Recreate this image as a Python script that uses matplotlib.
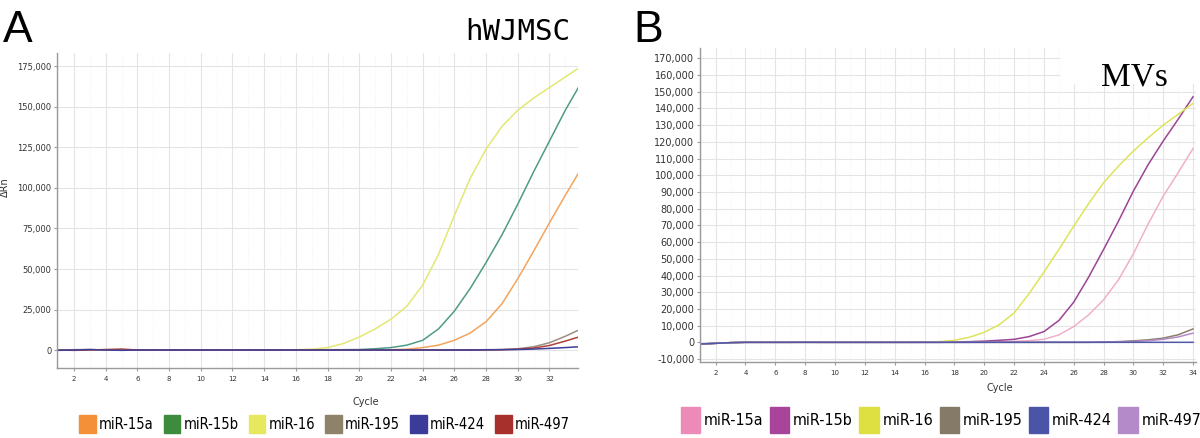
import numpy as np
import matplotlib
matplotlib.use("Agg")
import matplotlib.pyplot as plt
from matplotlib.font_manager import FontProperties
from matplotlib.patches import Patch, Rectangle
from matplotlib.ticker import FuncFormatter, MultipleLocator

cycles = np.arange(1, 35)
labels = ["miR-15a", "miR-15b", "miR-16", "miR-195", "miR-424", "miR-497"]

# Panel A: hWJMSC amplification curves (delta Rn per cycle 1..34)
a_15a = [0, 100, 0, -100, 0, 0, 0, 0, 0, 0, 0, 0, 0, 0, 0, 0, 0, 0, 0, 0,
         100, 200, 500, 1500, 3000, 6000, 10500, 17500, 28500, 44000, 61000, 78500, 95500, 112000]
a_15b = [0, 100, 0, 0, 0, 0, 0, 0, 0, 0, 0, 0, 0, 0, 0, 100, 100, 200, 200, 300,
         800, 1500, 3000, 6000, 13000, 24000, 38000, 54000, 71000, 90000, 110000, 129000, 148000, 165000]
a_16 = [0, 200, 100, -100, 0, 0, 0, 0, 0, 0, 0, 0, 0, 0, 100, 200, 500, 1500, 4000, 8000,
        13000, 19000, 27000, 40000, 59000, 83000, 106000, 124000, 138000, 148000, 155500, 162000, 168500, 175000]
a_195 = [0, 200, 300, 0, 100, 0, 0, 0, 0, 0, 0, 0, 0, 0, 0, 0, 0, 0, 0, 0,
         0, 0, 0, 0, 0, 0, 100, 200, 300, 800, 2000, 4500, 8500, 13000]
a_424 = [-200, 0, 300, 0, -200, 0, 0, 0, 0, 0, 0, 0, 0, 0, 0, 0, 0, 0, 0, 0,
         0, 0, 0, 0, 0, 0, 0, 100, 200, 300, 600, 1000, 1500, 2100]
a_497 = [0, -200, 0, 300, 600, 0, 0, 0, 0, 0, 0, 0, 0, 0, 0, 0, 0, 0, 0, 0,
         0, 0, 0, 0, 0, 0, 0, 100, 200, 500, 1200, 2800, 5500, 8500]

# Panel B: MVs amplification curves
b_15a = [-1000, -600, -200, 0, 0, 0, 0, 0, 0, 0, 0, 0, 0, 0, 0, 0, 0, 0, 0, 100,
         300, 600, 1000, 1800, 4400, 9400, 16400, 25400, 37400, 53000, 71000, 87500, 101500, 116000]
b_15b = [-1000, -600, -200, 0, 0, 0, 0, 100, 0, 0, 0, 0, 0, 0, 0, 0, 0, 200, 400, 700,
         1200, 1800, 3400, 6400, 13000, 24000, 39000, 55500, 72500, 90500, 106500, 120500, 133500, 147000]
b_16 = [-1000, -600, -200, 0, 0, 0, 0, 0, 0, 0, 0, 0, 0, 0, 0, 100, 400, 1200, 3000, 6000,
        10500, 17500, 29000, 42000, 55500, 69500, 83000, 95500, 105500, 114500, 122500, 130000, 136500, 143000]
b_195 = [-1000, -600, -200, 0, 0, 0, 0, 0, 0, 0, 0, 0, 0, 0, 0, 0, 0, 0, 0, 0,
         0, 0, 0, 0, 0, 0, 0, 200, 400, 900, 1500, 2500, 4500, 8000]
b_424 = [-1000, -600, -200, 0, 0, 0, 0, 0, 0, 0, 0, 0, 0, 0, 0, 0, 0, 0, 0, 0,
         0, 0, 0, 0, 0, 0, 0, 0, 0, 0, 0, 0, 0, 0]
b_497 = [-1000, -600, -200, 0, 0, 0, 0, 0, 0, 0, 0, 0, 0, 0, 0, 0, 0, 0, 0, 0,
         0, 0, 0, 0, 0, 0, 0, 0, 200, 500, 1000, 1800, 3200, 5500]

lines_a = ["#f3a45c", "#4f9a88", "#e2e872", "#9a8e80", "#3d3f9c", "#b0413a"]
patch_a = ["#f49038", "#3d8b3d", "#e6e85e", "#8e826a", "#3b3b9a", "#a8302c"]
lines_b = ["#f0b0cc", "#9c4494", "#dfe35a", "#8a7f6e", "#5058a8", "#b48ac8"]
patch_b = ["#ee8ab8", "#a8449a", "#dde040", "#857a68", "#4a55a8", "#b48ac8"]


def style_axes(ax, ylim, xlim, ystep, ysize):
    for side in ("top", "right"):
        ax.spines[side].set_visible(False)
    for side in ("left", "bottom"):
        ax.spines[side].set_color("#9a9a9a")
        ax.spines[side].set_linewidth(1.0)
    ax.set_xlim(*xlim)
    ax.set_ylim(*ylim)
    ax.xaxis.set_major_locator(MultipleLocator(2))
    ax.xaxis.set_minor_locator(MultipleLocator(1))
    ax.yaxis.set_major_locator(MultipleLocator(ystep))
    ax.yaxis.set_major_formatter(FuncFormatter(lambda v, p: f"{v:,.0f}"))
    ax.grid(which="major", color="#e4e4e4", lw=0.8)
    ax.grid(which="minor", axis="x", color="#f0f0f0", lw=0.6, ls=":")
    ax.tick_params(axis="x", labelsize=5, length=2, color="#9a9a9a", labelcolor="#333333", pad=4)
    ax.tick_params(axis="y", labelsize=ysize, length=2, color="#9a9a9a", labelcolor="#333333", pad=2)
    ax.tick_params(which="minor", length=0)


fig = plt.figure(figsize=(12, 4.38), dpi=100)
axA = fig.add_axes([57 / 1200, 70 / 438, 521 / 1200, 315.3 / 438])
axB = fig.add_axes([700 / 1200, 76.3 / 438, 496 / 1200, 313.7 / 438])

for vals, c in zip([a_15a, a_15b, a_16, a_195, a_497, a_424],
                   [lines_a[0], lines_a[1], lines_a[2], lines_a[3], lines_a[5], lines_a[4]]):
    axA.plot(cycles, vals, color=c, lw=1.1)
for vals, c in zip([b_15a, b_15b, b_16, b_195, b_497, b_424],
                   [lines_b[0], lines_b[1], lines_b[2], lines_b[3], lines_b[5], lines_b[4]]):
    axB.plot(cycles, vals, color=c, lw=1.1)

style_axes(axA, (-11100, 183500), (0.93, 33.8), 25000, 6)
style_axes(axB, (-11600, 176200), (0.95, 34.2), 10000, 7)

axA.set_xlabel("Cycle", fontsize=7, color="#333333")
axA.xaxis.set_label_coords(0.593, -0.092)
axA.set_ylabel("\u0394Rn", fontsize=7, color="#333333")
axA.yaxis.set_label_coords(-0.09, 0.574)
axB.set_xlabel("Cycle", fontsize=7, color="#333333")
axB.xaxis.set_label_coords(0.605, -0.068)

fig.text(3 / 1200, 1 - 42 / 438, "A", fontsize=32, family="Liberation Sans", va="baseline")
fig.text(633 / 1200, 1 - 42 / 438, "B", fontsize=32, family="Liberation Sans", va="baseline")
fig.text(570 / 1200, 1 - 40 / 438, "hWJMSC", fontsize=21, family="DejaVu Sans Mono",
         ha="right", va="baseline")

# white block behind the MVs title
fig.add_artist(Rectangle((1060 / 1200, 1 - 84 / 438), 140 / 1200, 40 / 438,
                         transform=fig.transFigure, facecolor="white", edgecolor="none", zorder=2))
fig.text(1168 / 1200, 1 - 85 / 438, "MVs", fontsize=24, family="Liberation Serif",
         ha="right", va="baseline", zorder=3)

leg_font_a = FontProperties(family="DejaVu Sans", stretch="condensed", size=10.5)
leg_font_b = FontProperties(family="DejaVu Sans", stretch="condensed", size=11.5)
fig.legend(handles=[Patch(color=c) for c in patch_a], labels=labels, loc="center left",
           bbox_to_anchor=(79 / 1200, 1 - 424 / 438), ncol=6, frameon=False,
           prop=leg_font_a, handlelength=1.15, handleheight=1.55,
           handletextpad=0.2, columnspacing=0.7, borderpad=0, borderaxespad=0)
fig.legend(handles=[Patch(color=c) for c in patch_b], labels=labels, loc="center left",
           bbox_to_anchor=(681 / 1200, 1 - 420 / 438), ncol=6, frameon=False,
           prop=leg_font_b, handlelength=1.2, handleheight=2.1,
           handletextpad=0.25, columnspacing=0.4, borderpad=0, borderaxespad=0)

fig.savefig("out.png", dpi=100)
